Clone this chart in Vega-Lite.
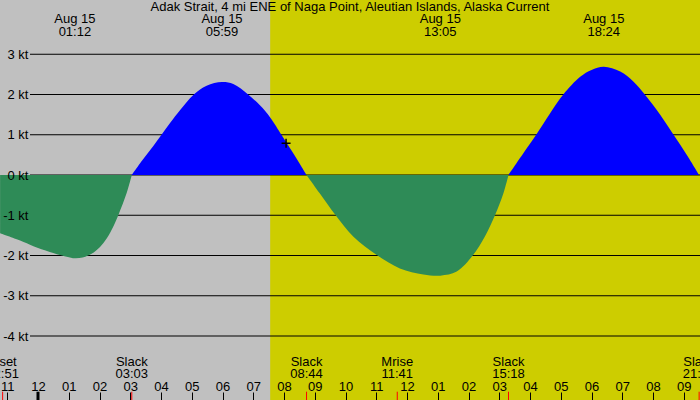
{
  "$schema": "https://vega.github.io/schema/vega-lite/v6.json",
  "width": 700,
  "height": 400,
  "autosize": "none",
  "padding": 0,
  "config": {
    "background": "#c0c0c0",
    "view": {"stroke": null},
    "font": "Liberation Sans",
    "text": {"font": "Liberation Sans", "fontSize": 13, "color": "black", "baseline": "alphabetic", "align": "center"}
  },
  "datasets": {
    "current": [
      {"hour": -1.233, "kt": -1.45, "phase": "ebb", "lobe": "e1"},
      {"hour": -0.583, "kt": -1.63, "phase": "ebb", "lobe": "e1"},
      {"hour": -0.15, "kt": -1.77, "phase": "ebb", "lobe": "e1"},
      {"hour": 0.383, "kt": -1.91, "phase": "ebb", "lobe": "e1"},
      {"hour": 0.933, "kt": -2.03, "phase": "ebb", "lobe": "e1"},
      {"hour": 1.2, "kt": -2.07, "phase": "ebb", "lobe": "e1"},
      {"hour": 1.45, "kt": -2.05, "phase": "ebb", "lobe": "e1"},
      {"hour": 1.626, "kt": -2.0, "phase": "ebb", "lobe": "e1"},
      {"hour": 1.8, "kt": -1.93, "phase": "ebb", "lobe": "e1"},
      {"hour": 2.017, "kt": -1.79, "phase": "ebb", "lobe": "e1"},
      {"hour": 2.233, "kt": -1.58, "phase": "ebb", "lobe": "e1"},
      {"hour": 2.45, "kt": -1.28, "phase": "ebb", "lobe": "e1"},
      {"hour": 2.611, "kt": -1.0, "phase": "ebb", "lobe": "e1"},
      {"hour": 2.883, "kt": -0.45, "phase": "ebb", "lobe": "e1"},
      {"hour": 3.05, "kt": 0, "phase": "ebb", "lobe": "e1"},
      {"hour": 3.05, "kt": 0, "phase": "flood", "lobe": "f1"},
      {"hour": 3.417, "kt": 0.39, "phase": "flood", "lobe": "f1"},
      {"hour": 3.75, "kt": 0.72, "phase": "flood", "lobe": "f1"},
      {"hour": 4.017, "kt": 1.0, "phase": "flood", "lobe": "f1"},
      {"hour": 4.3, "kt": 1.3, "phase": "flood", "lobe": "f1"},
      {"hour": 4.617, "kt": 1.61, "phase": "flood", "lobe": "f1"},
      {"hour": 5.05, "kt": 1.99, "phase": "flood", "lobe": "f1"},
      {"hour": 5.483, "kt": 2.22, "phase": "flood", "lobe": "f1"},
      {"hour": 5.983, "kt": 2.31, "phase": "flood", "lobe": "f1"},
      {"hour": 6.35, "kt": 2.26, "phase": "flood", "lobe": "f1"},
      {"hour": 6.833, "kt": 2.0, "phase": "flood", "lobe": "f1"},
      {"hour": 7.217, "kt": 1.73, "phase": "flood", "lobe": "f1"},
      {"hour": 7.55, "kt": 1.43, "phase": "flood", "lobe": "f1"},
      {"hour": 7.917, "kt": 1.0, "phase": "flood", "lobe": "f1"},
      {"hour": 8.083, "kt": 0.8, "phase": "flood", "lobe": "f1"},
      {"hour": 8.417, "kt": 0.4, "phase": "flood", "lobe": "f1"},
      {"hour": 8.733, "kt": 0, "phase": "flood", "lobe": "f1"},
      {"hour": 8.733, "kt": 0, "phase": "ebb", "lobe": "e2"},
      {"hour": 9.167, "kt": -0.46, "phase": "ebb", "lobe": "e2"},
      {"hour": 9.667, "kt": -0.99, "phase": "ebb", "lobe": "e2"},
      {"hour": 10.25, "kt": -1.53, "phase": "ebb", "lobe": "e2"},
      {"hour": 11.017, "kt": -1.99, "phase": "ebb", "lobe": "e2"},
      {"hour": 11.767, "kt": -2.32, "phase": "ebb", "lobe": "e2"},
      {"hour": 12.533, "kt": -2.47, "phase": "ebb", "lobe": "e2"},
      {"hour": 13.083, "kt": -2.5, "phase": "ebb", "lobe": "e2"},
      {"hour": 13.617, "kt": -2.4, "phase": "ebb", "lobe": "e2"},
      {"hour": 14.15, "kt": -1.99, "phase": "ebb", "lobe": "e2"},
      {"hour": 14.533, "kt": -1.53, "phase": "ebb", "lobe": "e2"},
      {"hour": 14.867, "kt": -0.99, "phase": "ebb", "lobe": "e2"},
      {"hour": 15.133, "kt": -0.46, "phase": "ebb", "lobe": "e2"},
      {"hour": 15.3, "kt": 0, "phase": "ebb", "lobe": "e2"},
      {"hour": 15.3, "kt": 0, "phase": "flood", "lobe": "f2"},
      {"hour": 15.783, "kt": 0.54, "phase": "flood", "lobe": "f2"},
      {"hour": 16.2, "kt": 1.0, "phase": "flood", "lobe": "f2"},
      {"hour": 16.65, "kt": 1.53, "phase": "flood", "lobe": "f2"},
      {"hour": 17.083, "kt": 2.0, "phase": "flood", "lobe": "f2"},
      {"hour": 17.633, "kt": 2.44, "phase": "flood", "lobe": "f2"},
      {"hour": 18.0, "kt": 2.61, "phase": "flood", "lobe": "f2"},
      {"hour": 18.4, "kt": 2.69, "phase": "flood", "lobe": "f2"},
      {"hour": 18.933, "kt": 2.57, "phase": "flood", "lobe": "f2"},
      {"hour": 19.367, "kt": 2.32, "phase": "flood", "lobe": "f2"},
      {"hour": 19.733, "kt": 2.0, "phase": "flood", "lobe": "f2"},
      {"hour": 20.233, "kt": 1.5, "phase": "flood", "lobe": "f2"},
      {"hour": 20.667, "kt": 1.0, "phase": "flood", "lobe": "f2"},
      {"hour": 21.1, "kt": 0.5, "phase": "flood", "lobe": "f2"},
      {"hour": 21.5, "kt": 0, "phase": "flood", "lobe": "f2"}
    ],
    "events": [
      {"hour": -1.15, "label": "Mset", "time": "22:51"},
      {"hour": 3.05, "label": "Slack", "time": "03:03"},
      {"hour": 8.733, "label": "Slack", "time": "08:44"},
      {"hour": 11.683, "label": "Mrise", "time": "11:41"},
      {"hour": 15.3, "label": "Slack", "time": "15:18"},
      {"hour": 21.5, "label": "Slack", "time": "21:30"}
    ],
    "peaks": [
      {"hour": 1.2, "kt": -2.07, "date": "Aug 15", "time": "01:12"},
      {"hour": 5.983, "kt": 2.31, "date": "Aug 15", "time": "05:59"},
      {"hour": 13.083, "kt": -2.5, "date": "Aug 15", "time": "13:05"},
      {"hour": 18.4, "kt": 2.69, "date": "Aug 15", "time": "18:24"}
    ],
    "levels": [
      {"kt": -4}, {"kt": -3}, {"kt": -2}, {"kt": -1},
      {"kt": 0}, {"kt": 1}, {"kt": 2}, {"kt": 3}
    ]
  },
  "layer": [
    {
      "data": {"values": [{"sunrise": 7.55, "sunset": 23.3}]},
      "mark": {"type": "rect", "color": "#cdcd00"},
      "encoding": {
        "x": {
          "field": "sunrise",
          "type": "quantitative",
          "scale": {"domain": [-1.2358, 21.528], "nice": false, "zero": false},
          "axis": {
            "orient": "top",
            "offset": -400,
            "values": [-1, 0, 1, 2, 3, 4, 5, 6, 7, 8, 9, 10, 11, 12, 13, 14, 15, 16, 17, 18, 19, 20, 21],
            "tickCount": 40,
            "labelExpr": "((datum.value + 24) % 12) == 0 ? '12' : pad((datum.value + 24) % 12, 2, '0', 'left')",
            "domain": false,
            "grid": false,
            "ticks": true,
            "tickSize": 8,
            "tickColor": "black",
            "labelPadding": 2,
            "labelBaseline": "alphabetic",
            "labelFont": "Liberation Sans",
            "labelFontSize": 13,
            "labelColor": "black",
            "labelOverlap": false,
            "labelFlush": false,
            "title": null,
            "zindex": 1
          }
        },
        "x2": {"field": "sunset"}
      }
    },
    {
      "data": {"name": "levels"},
      "mark": {"type": "rule", "color": "black", "strokeWidth": 1},
      "encoding": {
        "x": {"datum": -0.26, "type": "quantitative"},
        "x2": {"datum": 22.5},
        "y": {
          "field": "kt",
          "type": "quantitative",
          "scale": {"domain": [-5.59, 4.348], "nice": false, "zero": false},
          "axis": {
            "orient": "left",
            "offset": -30,
            "values": [-4, -3, -2, -1, 0, 1, 2, 3],
            "tickCount": 20,
            "labelExpr": "datum.value + ' kt'",
            "domain": false,
            "ticks": false,
            "grid": false,
            "labelPadding": 2,
            "labelFont": "Liberation Sans",
            "labelFontSize": 13,
            "labelColor": "black",
            "title": null,
            "zindex": 1
          }
        }
      }
    },
    {
      "data": {"name": "current"},
      "mark": {"type": "area", "interpolate": "catmull-rom"},
      "encoding": {
        "x": {"field": "hour", "type": "quantitative"},
        "y": {"field": "kt", "type": "quantitative", "stack": null},
        "y2": {"datum": 0},
        "color": {
          "field": "phase",
          "type": "nominal",
          "scale": {"domain": ["ebb", "flood"], "range": ["#2e8b57", "#0000ff"]},
          "legend": null
        },
        "detail": {"field": "lobe"}
      }
    },
    {
      "data": {"values": [{"hour": 8.067, "kt": 0.79}]},
      "mark": {"type": "point", "shape": "M-1,0H1M0,-1V1", "size": 81, "filled": false, "stroke": "black", "strokeWidth": 1.5, "opacity": 1},
      "encoding": {
        "x": {"field": "hour", "type": "quantitative"},
        "y": {"field": "kt", "type": "quantitative"}
      }
    },
    {
      "data": {"name": "events"},
      "mark": {"type": "rule", "color": "#ff0000", "strokeWidth": 1},
      "encoding": {
        "x": {"field": "hour", "type": "quantitative"},
        "y": {"datum": -5.384},
        "y2": {"datum": -5.7}
      }
    },
    {
      "data": {"values": [{"hour": 0}]},
      "mark": {"type": "rule", "color": "black", "strokeWidth": 3},
      "encoding": {
        "x": {"field": "hour", "type": "quantitative"},
        "y": {"datum": -5.384},
        "y2": {"datum": -5.7}
      }
    },
    {
      "data": {"name": "events"},
      "mark": {"type": "text"},
      "encoding": {
        "x": {"field": "hour", "type": "quantitative"},
        "y": {"datum": -4.745},
        "text": {"field": "label"}
      }
    },
    {
      "data": {"name": "events"},
      "mark": {"type": "text"},
      "encoding": {
        "x": {"field": "hour", "type": "quantitative"},
        "y": {"datum": -5.036},
        "text": {"field": "time"}
      }
    },
    {
      "data": {"name": "peaks"},
      "mark": {"type": "text"},
      "encoding": {
        "x": {"field": "hour", "type": "quantitative"},
        "y": {"datum": 3.769},
        "text": {"field": "date"}
      }
    },
    {
      "data": {"name": "peaks"},
      "mark": {"type": "text"},
      "encoding": {
        "x": {"field": "hour", "type": "quantitative"},
        "y": {"datum": 3.461},
        "text": {"field": "time"}
      }
    },
    {
      "data": {"values": [{"hour": 10.146, "title": "Adak Strait, 4 mi ENE of Naga Point, Aleutian Islands, Alaska Current"}]},
      "mark": {"type": "text"},
      "encoding": {
        "x": {"field": "hour", "type": "quantitative"},
        "y": {"datum": 4.075},
        "text": {"field": "title"}
      }
    }
  ]
}
